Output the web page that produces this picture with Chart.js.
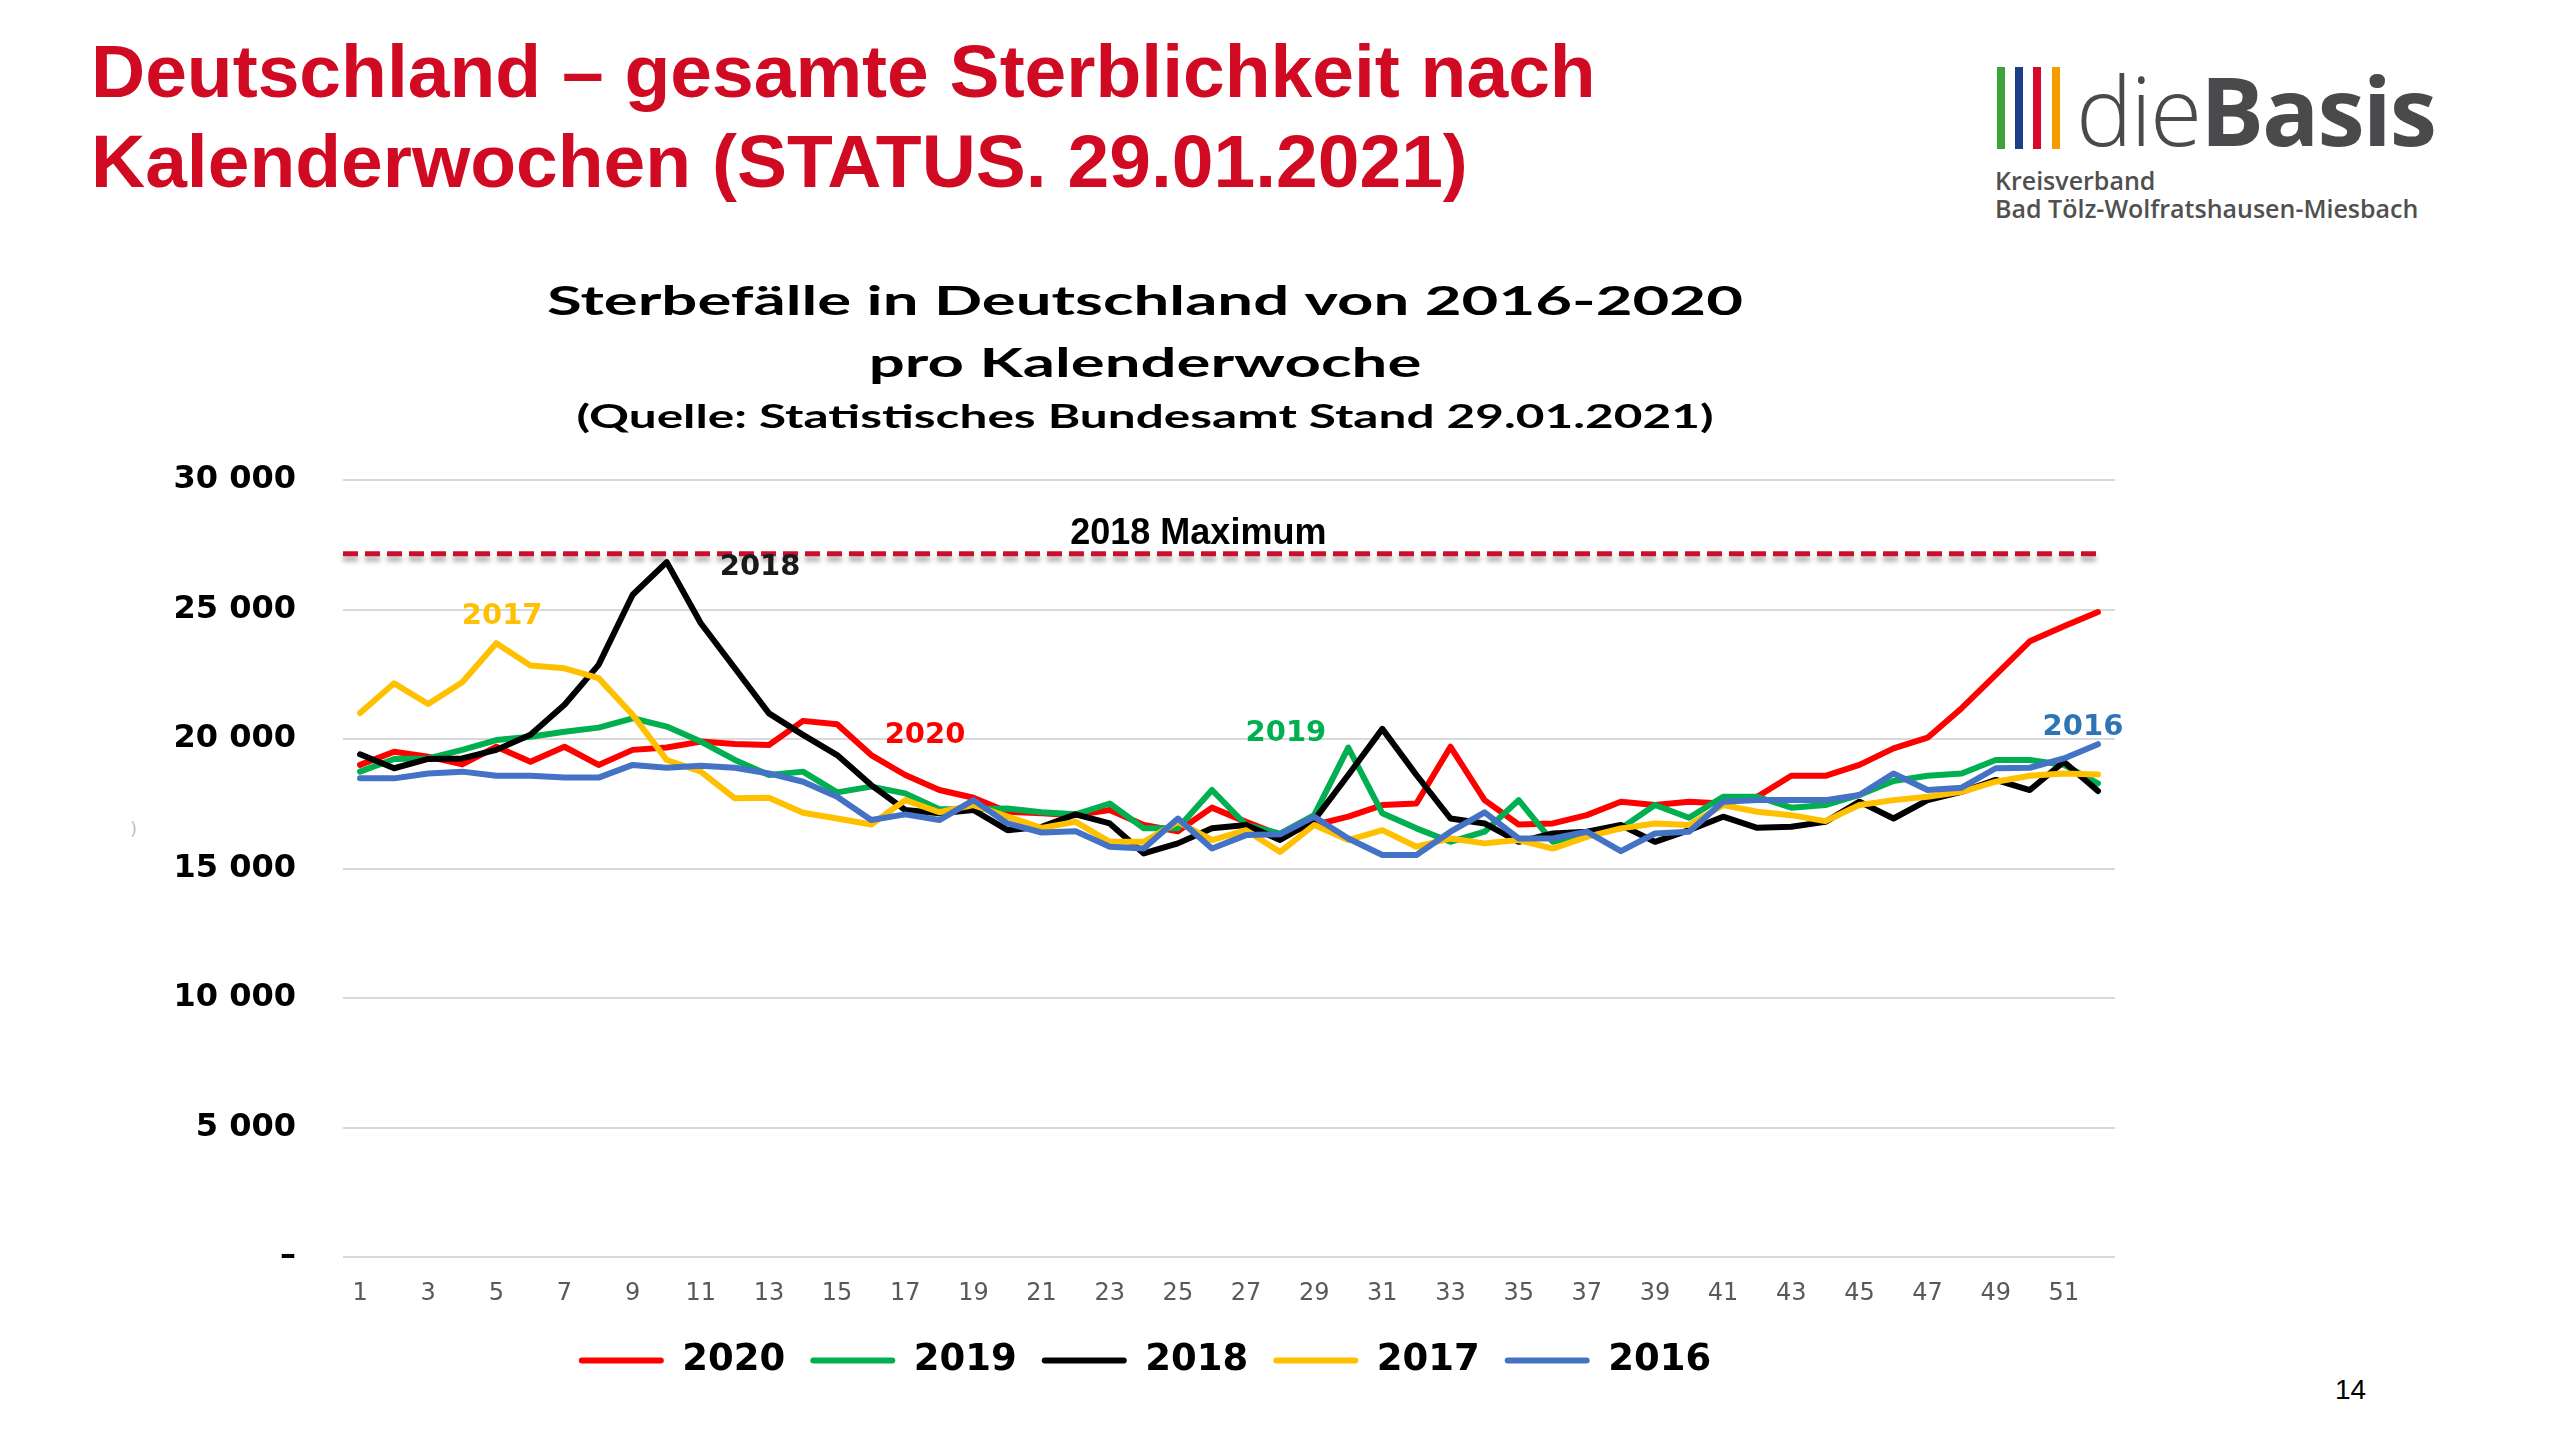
<!DOCTYPE html>
<html lang="de">
<head>
<meta charset="UTF-8">
<title>Sterbefälle in Deutschland 2016-2020</title>
<script src="https://cdn.jsdelivr.net/npm/chart.js"></script>
<style>
    body {
        margin: 0;
        width: 2560px;
        height: 1439px;
        position: relative;
        overflow: hidden;
        background: #fff;
    }
    .headline {
        position: absolute;
        left: 91px;
        top: 26px;
        font-family: "Liberation Sans", Arial, sans-serif;
        font-weight: bold;
        font-size: 75px;
        line-height: 90px;
        color: #d00a22;
        white-space: nowrap;
    }
    .bar {
        position: absolute;
        top: 67px;
        width: 8px;
        height: 82px;
    }
    .logo-word {
        position: absolute;
        left: 2076px;
        top: 62px;
        font-family: "Open Sans", sans-serif;
        font-size: 95px;
        line-height: 1;
        color: #4a4a4c;
        white-space: nowrap;
        letter-spacing: -2px;
    }
    .logo-word .thin { font-weight: 300; }
    .logo-word .bold { font-weight: 700; }
    .logo-sub {
        position: absolute;
        left: 1995px;
        font-family: "Open Sans", sans-serif;
        font-weight: 600;
        font-size: 25px;
        line-height: 1;
        color: #505050;
        white-space: nowrap;
    }
    .page-no {
        position: absolute;
        left: 2335px;
        top: 1376px;
        font-family: "Liberation Sans", Arial, sans-serif;
        font-size: 28px;
        line-height: 1;
        color: #000;
    }
    .stray {
        position: absolute;
        left: 130px;
        top: 818px;
        font-family: "DejaVu Sans", sans-serif;
        font-size: 18px;
        color: #c0c0c0;
    }
    .chart-box {
        position: absolute;
        left: 0;
        top: 0;
        width: 2290px;
        height: 1439px;
    }
</style>
</head>
<body>
    <div class="headline">Deutschland – gesamte Sterblichkeit nach<br>Kalenderwochen (STATUS. 29.01.2021)</div>

    <div class="bar" style="left:1997px; background:#3ea33a"></div>
    <div class="bar" style="left:2015px; background:#1d3f87"></div>
    <div class="bar" style="left:2033px; background:#d6082b"></div>
    <div class="bar" style="left:2052px; background:#f59c00"></div>
    <div class="logo-word"><span class="thin">die</span><span class="bold">Basis</span></div>
    <div class="logo-sub" style="top:168px">Kreisverband</div>
    <div class="logo-sub" style="top:196px">Bad Tölz-Wolfratshausen-Miesbach</div>

    <div class="stray">)</div>
    <div class="page-no">14</div>

    <div class="chart-box"><canvas id="deathsChart"></canvas></div>

<script>
    // Kalenderwochen
    const weeks = ['1','2','3','4','5','6','7','8','9','10','11','12','13','14','15','16','17','18','19','20',
        '21','22','23','24','25','26','27','28','29','30','31','32','33','34','35','36','37','38','39','40',
        '41','42','43','44','45','46','47','48','49','50','51','52'];

    // Sterbefälle pro Woche
    const deaths2020 = [19000,19510,19320,19020,19700,19120,19700,19000,19580,19670,19900,19810,19770,20700,20570,19380,
        18610,18030,17730,17190,17130,17060,17260,16680,16440,17350,16800,16290,16680,17000,17450,17510,19700,17640,
        16700,16740,17060,17580,17450,17580,17510,17770,18580,18580,19000,19640,20050,21190,22480,23770,24350,24900];
    const deaths2019 = [18740,19230,19250,19580,19960,20090,20280,20440,20800,20480,19900,19190,18610,18740,17940,18160,
        17900,17290,17290,17320,17170,17090,17510,16550,16550,18030,16680,16350,17060,19670,17130,16550,16030,16420,
        17640,16030,16350,16550,17450,16960,17770,17770,17350,17450,17840,18380,18580,18670,19190,19190,19000,18290];
    const deaths2018 = [19410,18870,19230,19250,19580,20160,21320,22860,25570,26830,24470,22730,20990,20160,19380,18220,
        17260,17130,17260,16480,16610,17090,16740,15580,15970,16550,16680,16100,16870,18610,20390,18610,16930,16740,
        16030,16350,16420,16680,16030,16480,17000,16570,16610,16800,17580,16930,17640,17960,18420,18030,19120,17990];
    const deaths2017 = [21000,22150,21350,22190,23700,22840,22730,22350,20930,19190,18740,17710,17730,17150,16930,16700,
        17640,17170,17450,17000,16570,16800,16030,16030,16800,16100,16480,15640,16680,16100,16480,15840,16160,15970,
        16100,15770,16220,16550,16740,16680,17450,17190,17060,16830,17450,17640,17770,17960,18350,18580,18670,18630];
    const deaths2016 = [18480,18480,18670,18740,18580,18580,18510,18510,19000,18890,18970,18890,18670,18350,17770,16870,
        17090,16870,17640,16740,16390,16440,15840,15770,16930,15770,16290,16320,17000,16160,15520,15520,16420,17170,
        16160,16160,16420,15670,16350,16420,17580,17640,17640,17640,17840,18670,18030,18120,18870,18890,19250,19800];

    const seriesNames = ['2020', '2019', '2018', '2017', '2016'];
    const seriesColors = ['#ff0000', '#00b050', '#000000', '#ffc000', '#4472c4'];

    const yTickValues = [0, 5000, 10000, 15000, 20000, 25000, 30000];
    const yTickLabels = ['–', '5 000', '10 000', '15 000', '20 000', '25 000', '30 000'];

    const max2018 = 27150;

    const titleLines = ['Sterbefälle in Deutschland von 2016-2020', 'pro Kalenderwoche',
        '(Quelle: Statistisches Bundesamt Stand 29.01.2021)'];

    // Beschriftungen im Diagramm: Woche (1-basiert) und Wert
    const notes = [
        {text: '2017', week: 5.17, value: 24720, color: '#ffc000'},
        {text: '2018', week: 12.74, value: 26610, color: '#1a1a1a'},
        {text: '2020', week: 17.58, value: 20150, color: '#ff0000'},
        {text: '2019', week: 28.17, value: 20230, color: '#00b050'},
        {text: '2016', week: 51.56, value: 20460, color: '#2e75b6'}
    ];

    const allSeries = [deaths2020, deaths2019, deaths2018, deaths2017, deaths2016];

    const datasets = allSeries.map((d, i) => ({
        label: seriesNames[i],
        data: d,
        borderColor: seriesColors[i],
        backgroundColor: seriesColors[i],
        borderWidth: 6,
        pointRadius: 0,
        tension: 0,
        borderJoinStyle: 'round',
        borderCapStyle: 'round',
        order: allSeries.length - i
    }));

    // Titel, Maximum-Linie und Jahres-Beschriftungen
    const overlay = {
        id: 'overlay',
        afterDatasetsDraw(chart) {
            const ctx = chart.ctx;
            const area = chart.chartArea;
            const x = chart.scales.x;
            const y = chart.scales.y;

            // 2018 Maximum
            ctx.save();
            const yMax = y.getPixelForValue(max2018);
            ctx.strokeStyle = '#c8102e';
            ctx.lineWidth = 5;
            ctx.setLineDash([15, 7]);
            ctx.shadowColor = 'rgba(0,0,0,0.35)';
            ctx.shadowBlur = 5;
            ctx.shadowOffsetY = 5;
            ctx.beginPath();
            ctx.moveTo(area.left, yMax);
            ctx.lineTo(x.getPixelForValue(weeks.length - 1), yMax);
            ctx.stroke();
            ctx.restore();

            ctx.save();
            ctx.font = 'bold 36px "Liberation Sans", Arial, sans-serif';
            ctx.fillStyle = '#000';
            ctx.textAlign = 'center';
            ctx.textBaseline = 'middle';
            ctx.fillText('2018 Maximum', x.getPixelForValue(24.6), y.getPixelForValue(27930));

            ctx.font = 'bold 29px "DejaVu Sans", sans-serif';
            notes.forEach(n => {
                ctx.fillStyle = n.color;
                ctx.fillText(n.text, x.getPixelForValue(n.week - 1), y.getPixelForValue(n.value));
            });
            ctx.restore();

            // Diagrammtitel (horizontal gestreckt wie im Original)
            ctx.save();
            ctx.fillStyle = '#000';
            ctx.textAlign = 'center';
            ctx.textBaseline = 'alphabetic';
            ctx.font = 'bold 41px Lato, sans-serif';
            const stretch = 1196 / ctx.measureText(titleLines[0]).width;
            const cx = chart.width / 2;
            const rows = [
                {text: titleLines[0], size: 41, base: 315},
                {text: titleLines[1], size: 41, base: 377},
                {text: titleLines[2], size: 32, base: 428}
            ];
            rows.forEach(r => {
                ctx.save();
                ctx.font = 'bold ' + r.size + 'px Lato, sans-serif';
                ctx.translate(cx, r.base);
                ctx.scale(stretch, 1);
                ctx.fillText(r.text, 0, 0);
                ctx.restore();
            });
            ctx.restore();
        }
    };

    const ctxChart = document.getElementById('deathsChart').getContext('2d');

    const deathsChart = new Chart(ctxChart, {
        type: 'line',
        data: {
            labels: weeks,
            datasets: datasets
        },
        options: {
            responsive: true,
            maintainAspectRatio: false,
            animation: false,
            layout: {
                padding: {top: 480, left: 0, right: 0, bottom: 50}
            },
            plugins: {
                title: {display: false},
                tooltip: {enabled: false},
                legend: {
                    position: 'bottom',
                    labels: {
                        boxWidth: 85,
                        boxHeight: 6,
                        padding: 25,
                        color: '#000',
                        useBorderRadius: true,
                        borderRadius: 3,
                        font: {family: '"DejaVu Sans", sans-serif', weight: 'bold', size: 37},
                        sort: (a, b) => a.datasetIndex - b.datasetIndex,
                        generateLabels(chart) {
                            return Chart.defaults.plugins.legend.labels.generateLabels(chart)
                                .map(l => Object.assign(l, {lineWidth: 0, fillStyle: l.strokeStyle}));
                        }
                    }
                }
            },
            scales: {
                x: {
                    offset: true,
                    grid: {display: false, drawTicks: false},
                    border: {display: false},
                    afterFit(scale) { scale.height = 60; },
                    ticks: {
                        autoSkip: false,
                        maxRotation: 0,
                        padding: 22,
                        color: '#595959',
                        font: {family: '"DejaVu Sans", sans-serif', size: 24},
                        callback: (v, i) => (i % 2 === 0 ? weeks[i] : '')
                    }
                },
                y: {
                    min: 0,
                    max: 30000,
                    afterFit(scale) { scale.width = 343; },
                    afterBuildTicks(scale) { scale.ticks = yTickValues.map(v => ({value: v})); },
                    grid: {color: '#d9d9d9', lineWidth: 2, drawTicks: false},
                    border: {display: false},
                    ticks: {
                        padding: 47,
                        color: '#000',
                        font: {family: '"DejaVu Sans", sans-serif', weight: 'bold', size: 32},
                        callback: (v) => yTickLabels[yTickValues.indexOf(v)]
                    }
                },
                // leerer Rand rechts, damit Titel und Legende wie im Original sitzen
                yRight: {
                    position: 'right',
                    min: 0,
                    max: 30000,
                    afterFit(scale) { scale.width = 175; },
                    grid: {display: false, drawTicks: false},
                    border: {display: false},
                    ticks: {display: false}
                }
            }
        },
        plugins: [overlay]
    });
</script>
</body>
</html>
